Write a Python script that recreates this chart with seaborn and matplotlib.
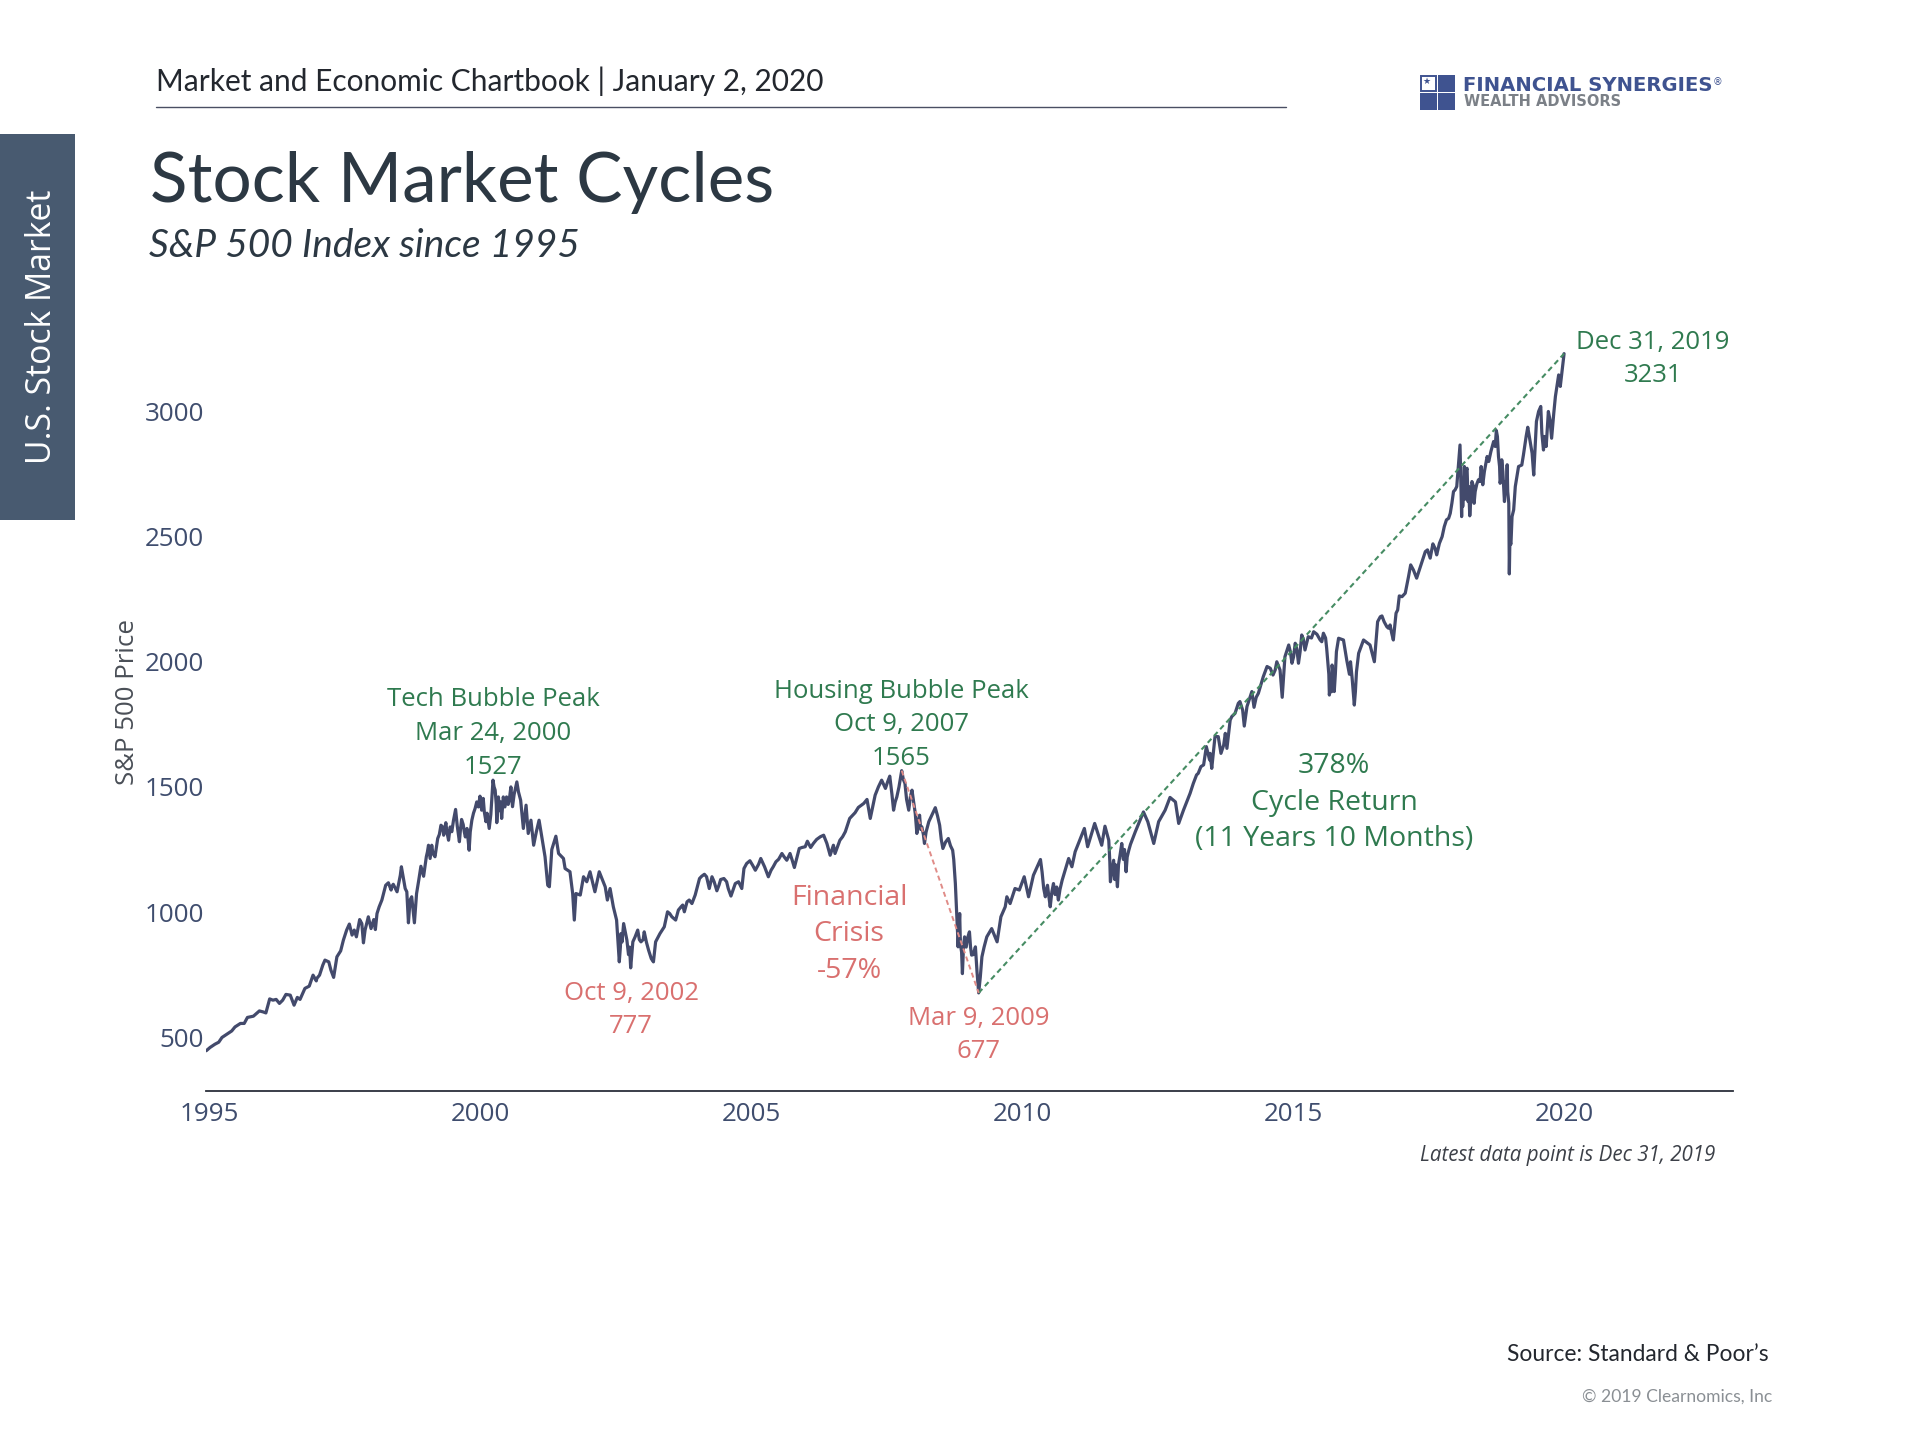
import matplotlib
matplotlib.use("Agg")
import matplotlib.pyplot as plt
from matplotlib.patches import Rectangle
from matplotlib.lines import Line2D
import seaborn as sns
import pandas as pd

# S&P 500 index: decimal year, price
years = [
1994.94,1995.01,1995.10,1995.17,1995.23,1995.32,1995.41,1995.47,1995.57,1995.64,1995.70,1995.81,1995.92,1995.99,1996.04,1996.11,1996.17,1996.23,1996.29,1996.35,
1996.41,1996.49,1996.56,1996.62,1996.67,1996.76,1996.84,1996.91,1996.97,1997.03,1997.13,1997.20,1997.24,1997.29,1997.35,1997.42,1997.47,1997.58,1997.63,1997.67,
1997.71,1997.77,1997.81,1997.84,1997.87,1997.93,1997.98,1998.03,1998.06,1998.09,1998.18,1998.25,1998.30,1998.35,1998.39,1998.46,1998.54,1998.61,1998.64,1998.67,
1998.70,1998.73,1998.78,1998.82,1998.86,1998.90,1998.95,1999.00,1999.04,1999.07,1999.10,1999.16,1999.21,1999.27,1999.32,1999.36,1999.41,1999.47,1999.54,1999.61,
1999.65,1999.70,1999.75,1999.79,1999.84,1999.90,1999.99,2000.02,2000.05,2000.10,2000.16,2000.23,2000.27,2000.30,2000.33,2000.39,2000.42,2000.53,2000.56,2000.59,
2000.67,2000.74,2000.79,2000.84,2000.88,2000.93,2000.98,2001.03,2001.08,2001.16,2001.19,2001.24,2001.27,2001.315,2001.39,2001.44,2001.53,2001.56,2001.65,2001.70,
2001.73,2001.76,2001.84,2001.90,2001.96,2002.02,2002.11,2002.19,2002.30,2002.34,2002.39,2002.45,2002.51,2002.56,2002.59,2002.64,2002.70,2002.77,2002.81,2002.90,
2002.96,2003.02,2003.10,2003.15,2003.19,2003.23,2003.31,2003.39,2003.45,2003.53,2003.60,2003.70,2003.76,2003.81,2003.90,2003.96,2004.04,2004.13,2004.17,2004.22,
2004.27,2004.36,2004.43,2004.49,2004.57,2004.62,2004.68,2004.76,2004.82,2004.86,2004.97,2005.07,2005.17,2005.24,2005.31,2005.40,2005.50,2005.56,2005.65,2005.71,
2005.79,2005.88,2005.99,2006.03,2006.09,2006.20,2006.33,2006.39,2006.45,2006.51,2006.54,2006.63,2006.73,2006.81,2006.91,2006.97,2007.07,2007.13,2007.19,2007.28,
2007.40,2007.47,2007.55,2007.62,2007.68,2007.77,2007.83,2007.90,2007.96,2008.02,2008.05,2008.10,2008.14,2008.19,2008.27,2008.39,2008.47,2008.53,2008.63,2008.71,
2008.76,2008.79,2008.81,2008.84,2008.86,2008.89,2008.93,2009.02,2009.06,2009.13,2009.19,2009.25,2009.34,2009.43,2009.53,2009.60,2009.68,2009.71,2009.77,2009.86,
2009.94,2010.03,2010.11,2010.20,2010.33,2010.39,2010.42,2010.46,2010.51,2010.57,2010.66,2010.73,2010.85,2010.91,2010.97,2011.14,2011.20,2011.33,2011.46,2011.52,
2011.59,2011.62,2011.68,2011.73,2011.75,2011.83,2011.91,2011.96,2012.08,2012.23,2012.31,2012.42,2012.51,2012.63,2012.72,2012.82,2012.88,2012.97,2013.15,2013.24,
2013.34,2013.39,2013.46,2013.49,2013.55,2013.66,2013.74,2013.77,2013.86,2014.01,2014.09,2014.14,2014.23,2014.27,2014.35,2014.51,2014.62,2014.69,2014.79,2014.91,
2014.97,2015.03,2015.09,2015.15,2015.21,2015.37,2015.49,2015.55,2015.61,2015.66,2015.71,2015.75,2015.83,2015.92,2015.98,2016.08,2016.12,2016.20,2016.29,2016.41,
2016.49,2016.55,2016.63,2016.72,2016.78,2016.84,2016.89,2016.95,2017.06,2017.16,2017.27,2017.34,2017.43,2017.52,2017.57,2017.64,2017.74,2017.82,2017.89,2017.95,
2018.01,2018.07,2018.10,2018.15,2018.20,2018.25,2018.32,2018.33,2018.41,2018.46,2018.49,2018.57,2018.64,2018.74,2018.78,2018.81,2018.84,2018.89,2018.94,2018.97,
2018.98,2019.03,2019.09,2019.15,2019.24,2019.32,2019.37,2019.43,2019.48,2019.56,2019.61,2019.66,2019.70,2019.76,2019.83,2019.89,2019.92,2019.99]
prices = [
446,459,472,480,499,512,525,541,555,555,579,584,605,601,597,653,648,651,635,648,
671,668,628,659,651,695,704,748,725,748,808,801,768,739,821,845,888,952,908,928,
901,970,954,877,928,981,934,970,930,994,1048,1107,1117,1088,1111,1081,1181,1094,1081,957,
1048,1061,957,1074,1127,1183,1143,1221,1267,1214,1267,1221,1294,1347,1307,1357,1287,1321,1410,1281,
1370,1321,1334,1247,1367,1414,1463,1407,1454,1361,1334,1527,1487,1357,1460,1374,1460,1447,1500,1421,
1520,1447,1334,1427,1314,1367,1267,1321,1367,1261,1221,1107,1101,1250,1303,1234,1214,1174,1161,1074,
968,1074,1068,1141,1121,1161,1081,1161,1101,1048,1094,1021,968,801,914,954,888,777,881,928,
881,921,848,814,801,881,914,941,1001,981,968,1021,1001,1041,1034,1068,1134,1151,1141,1094,
1141,1085,1130,1134,1094,1064,1101,1121,1094,1174,1205,1167,1214,1181,1141,1181,1211,1234,1207,1234,
1178,1254,1261,1283,1258,1290,1307,1274,1227,1267,1234,1287,1321,1374,1397,1418,1434,1450,1374,1467,
1527,1494,1543,1407,1460,1565,1514,1407,1487,1394,1314,1387,1341,1274,1361,1417,1347,1254,1294,1247,
1114,968,861,994,861,754,901,921,828,861,677,821,901,934,881,981,1021,1061,1034,1094,
1088,1141,1061,1147,1210,1094,1061,1107,1021,1114,1048,1127,1214,1181,1241,1334,1261,1354,1267,1343,
1287,1121,1207,1154,1101,1274,1161,1247,1321,1400,1361,1274,1361,1407,1458,1440,1354,1408,1514,1554,
1588,1661,1634,1574,1701,1634,1714,1654,1781,1841,1743,1821,1881,1818,1874,1981,1947,2000,1858,2067,
1994,2074,1994,2107,2047,2120,2087,2114,2054,1867,1987,1881,2094,2087,2007,1934,1827,2034,2087,2067,
2000,2160,2183,2140,2147,2087,2194,2263,2274,2387,2334,2380,2440,2414,2471,2427,2500,2567,2593,2680,
2700,2866,2580,2780,2773,2583,2700,2633,2727,2780,2707,2820,2840,2924,2820,2713,2807,2640,2787,2633,
2351,2580,2700,2780,2826,2937,2873,2746,2960,3020,2846,2860,3000,2893,3060,3146,3100,3231]

# further readings in the densest, most jagged stretches
more_years = [
1996.98,1997.09,1997.53,1998.13,1998.36,1998.52,
1999.02,1999.12,1999.24,1999.30,1999.38,1999.44,1999.50,1999.57,1999.63,1999.68,1999.72,1999.77,1999.81,1999.87,1999.93,1999.96,2000.00,2000.07,2000.12,2000.19,
2000.25,2000.29,2000.35,2000.37,2000.45,2000.48,2000.51,2000.62,2000.70,2000.76,
2002.58,2002.61,2002.73,2002.75,2002.79,2002.85,2002.93,2003.00,2003.06,
2003.49,2003.65,2003.73,2003.85,2004.08,2004.31,2004.40,2004.54,
2004.70,2004.91,2005.02,2005.13,2005.36,2005.45,2005.60,2005.75,2005.93,2006.14,2006.27,2006.48,2006.68,
2007.34,2007.51,2007.59,2007.65,2007.72,2007.80,2007.86,2007.93,2007.99,2008.07,2008.12,2008.17,2008.22,2008.43,2008.50,2008.58,2008.67,2008.73,2008.78,2008.80,
2008.825,2008.85,2008.875,2008.91,2008.96,2008.99,2009.04,2009.09,2009.16,2009.22,2009.29,
2010.36,2010.44,2010.48,2010.54,2010.60,2010.63,2010.69,2011.61,2011.64,2011.66,2011.70,2011.71,2011.77,2011.80,2011.86,2011.88,2011.93,2011.99,
2013.09,2013.21,2013.29,2013.45,2013.61,2013.71,2013.83,2013.92,2013.98,2014.06,2014.20,2014.31,2014.44,2014.57,2014.66,2014.75,2014.84,
2014.94,2015.00,2015.06,2015.12,2015.18,2015.27,2015.33,2015.43,2015.52,2015.59,2015.65,2015.68,2015.70,2015.73,2015.77,2015.79,2016.03,2016.05,2016.10,2016.14,2016.16,
2016.60,2016.67,2016.75,2016.81,2016.92,2017.00,2017.12,2017.21,2017.30,2017.38,2017.47,2017.61,2017.69,2017.78,2017.86,2017.92,2017.98,
2018.11,2018.12,2018.17,2018.18,2018.22,2018.23,2018.27,2018.29,2018.35,2018.38,2018.44,2018.52,2018.60,2018.69,2018.72,2018.76,2018.80,2018.83,2018.86,2018.91,2018.93,2018.95,2018.99,2019.01,
2019.06,2019.12,2019.21,2019.29,2019.40,2019.52,2019.58,2019.63,2019.73,2019.80]
more_prices = [
735,788,928,1021,1101,1147,
1240,1235,1310,1340,1320,1340,1365,1345,1330,1350,1300,1290,1320,1395,1440,1420,1450,1400,1395,1390,
1500,1430,1405,1440,1420,1460,1430,1470,1480,1400,
860,880,830,860,830,900,890,890,880,
994,1008,1028,1048,1143,1121,1108,1121,
1114,1194,1187,1191,1167,1201,1221,1207,1258,1274,1301,1247,1301,
1500,1520,1470,1440,1500,1530,1450,1460,1440,1360,1330,1310,1320,1385,1290,1280,1265,1210,1010,920,
930,900,840,860,860,900,860,830,760,740,860,
1160,1090,1070,1080,1070,1100,1090,1200,1150,1180,1130,1190,1190,1230,1210,1250,1220,1270,
1474,1548,1581,1608,1701,1667,1767,1794,1834,1807,1861,1858,1940,1974,1967,1967,2020,
2040,2020,2050,2040,2090,2100,2095,2110,2080,2095,1950,1910,1880,1950,1950,2040,1950,2000,1880,1880,1960,
2180,2160,2134,2114,2207,2260,2340,2367,2354,2407,2447,2453,2473,2540,2573,2633,2687,
2700,2620,2650,2760,2640,2700,2650,2720,2680,2710,2720,2760,2800,2880,2860,2900,2780,2740,2760,2720,2700,2680,2480,2470,
2607,2740,2786,2900,2833,3000,2913,2900,2966,2993]

cycle_up_years = [2009.19, 2019.99]
cycle_up_prices = [677, 3231]
crisis_years = [2007.77, 2009.19]
crisis_prices = [1565, 677]
x_ticks = [1995, 2000, 2005, 2010, 2015, 2020]
y_ticks = [500, 1000, 1500, 2000, 2500, 3000]

NAVY = "#434a6c"
TICK = "#3f4d6e"
GREEN = "#2f7a4f"
DASH_GREEN = "#468c63"
RED = "#d9706f"
DASH_RED = "#e08c88"

sns.set_theme(style="white")
plt.rcParams["font.family"] = ["Open Sans", "DejaVu Sans"]

W, H = 1568.0, 1176.0
fig = plt.figure(figsize=(19.2, 14.4), dpi=100, facecolor="white")
ax = fig.add_axes([168 / W, 1 - 891 / H, (1415 - 168) / W, (891 - 270) / H])

df = pd.DataFrame({"year": years + more_years, "price": prices + more_prices}).sort_values("year")
sns.lineplot(data=df, x="year", y="price", ax=ax, color=NAVY, lw=2.3,
             estimator=None, sort=False, errorbar=None)
sns.lineplot(x=cycle_up_years, y=cycle_up_prices, ax=ax, color=DASH_GREEN, lw=1.5,
             estimator=None, linestyle=(0, (2.6, 1.8)), errorbar=None)
sns.lineplot(x=crisis_years, y=crisis_prices, ax=ax, color=DASH_RED, lw=1.4,
             estimator=None, linestyle=(0, (2.6, 1.8)), errorbar=None)

ax.set_xlim(1994.93, 2023.1)
ax.set_ylim(285, 3323)
ax.set_xticks(x_ticks)
ax.set_yticks(y_ticks)
ax.set_xticklabels([str(v) for v in x_ticks])
ax.set_yticklabels([str(v) for v in y_ticks])
ax.tick_params(axis="both", length=0, labelsize=18.7, labelcolor=TICK)
ax.tick_params(axis="x", pad=8)
ax.tick_params(axis="y", pad=1)
ax.set_xlabel("")
ax.set_ylabel("")
sns.despine(ax=ax, left=True, top=True, right=True)
ax.spines["bottom"].set_color("#2b2f3a")
ax.spines["bottom"].set_linewidth(1.3)
ax.grid(False)


def T(x, y, s, **kw):
    kw.setdefault("ha", "center")
    kw.setdefault("va", "center")
    return fig.text(x / W, 1 - y / H, s, **kw)


# left tab
fig.add_artist(Rectangle((0, 1 - 424.5 / H), 61 / W, 315 / H, transform=fig.transFigure,
                         facecolor="#485a70", edgecolor="none"))
T(34, 267, "U.S. Stock Market", color="white", fontsize=24.3, rotation=90)

# header
T(127.5, 66.5, "Market and Economic Chartbook | January 2, 2020", ha="left", fontsize=21.55,
  color="#23272e", family=["Lato", "DejaVu Sans"])
fig.add_artist(Line2D([127 / W, 1050 / W], [1 - 87.5 / H] * 2, transform=fig.transFigure,
                      color="#4a4f63", lw=1.0))
T(122.5, 149, "Stock Market Cycles", ha="left", fontsize=49.9, color="#2c3843",
  family=["Lato", "DejaVu Sans"])
T(122, 201, "S&P 500 Index since 1995", ha="left", fontsize=28, color="#2c3843",
  family=["Lato", "DejaVu Sans"], style="italic")

# logo
LOGO = "#3f5390"
for (lx, ly, fc) in [(1174.5, 61.5, LOGO), (1160, 76.3, LOGO), (1174.5, 76.3, LOGO)]:
    fig.add_artist(Rectangle((lx / W, 1 - (ly + 13.4) / H), 13.4 / W, 13.4 / H, transform=fig.transFigure,
                             facecolor=fc, edgecolor="none"))
fig.add_artist(Rectangle((1160.6 / W, 1 - 74.3 / H), 12.2 / W, 12.2 / H, transform=fig.transFigure,
                         facecolor="white", edgecolor=LOGO, lw=1.4))
T(1165, 66.5, "★", color=LOGO, fontsize=6.5, family=["DejaVu Sans"])
T(1195, 69.8, "FINANCIAL SYNERGIES", ha="left", fontsize=14.1, color=LOGO, fontweight="bold",
  family=["DejaVu Sans"])
T(1399, 67, "®", ha="left", fontsize=7, color=LOGO, family=["DejaVu Sans"])
T(1196, 83, "WEALTH ADVISORS", ha="left", fontsize=10.5, color="#7b8087", fontweight="bold",
  family=["DejaVu Sans"])

# y axis title
T(104.5, 573, "S&P 500 Price", rotation=90, fontsize=18.6, color="#4a4f57")

# annotations
T(403, 599, "Tech Bubble Peak\nMar 24, 2000\n1527", color=GREEN, fontsize=18.5, linespacing=1.45)
T(736, 592, "Housing Bubble Peak\nOct 9, 2007\n1565", color=GREEN, fontsize=18.5, linespacing=1.45)
T(515.5, 825, "Oct 9, 2002\n777", color=RED, fontsize=18.5, linespacing=1.42)
T(799.5, 845, "Mar 9, 2009\n677", color=RED, fontsize=18.5, linespacing=1.42)
T(693.5, 763, "Financial\nCrisis\n-57%", color=RED, fontsize=20.5, linespacing=1.4)
T(1350, 293.5, "Dec 31, 2019\n3231", color=GREEN, fontsize=18.5, linespacing=1.42)
T(1089.5, 655.5, "378%\nCycle Return\n(11 Years 10 Months)", color=GREEN, fontsize=20.5, linespacing=1.4)

# notes
T(1401, 943.5, "Latest data point is Dec 31, 2019", ha="right", fontsize=14.8, style="italic", color="#3c4048")
T(1444, 1106, "Source: Standard & Poor’s", ha="right", fontsize=16.4, color="#23272e",
  family=["Lato", "DejaVu Sans"])
T(1447, 1140.5, "© 2019 Clearnomics, Inc", ha="right", fontsize=12.6, color="#8a8f94",
  family=["Lato", "DejaVu Sans"])

fig.savefig("out.png", dpi=100, facecolor="white")
